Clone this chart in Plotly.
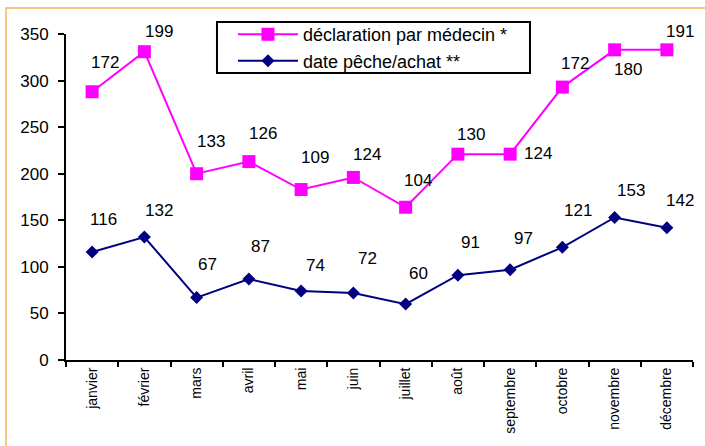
import plotly.graph_objects as go

months = ["janvier", "février", "mars", "avril", "mai", "juin", "juillet",
          "août", "septembre", "octobre", "novembre", "décembre"]

# cases by date of fishing / purchase
peche_achat = [116, 132, 67, 87, 74, 72, 60, 91, 97, 121, 153, 142]
# cases declared by physicians (stacked on top of the first series)
declaration_medecin = [172, 199, 133, 126, 109, 124, 104, 130, 124, 172, 180, 191]

series_names = ["déclaration par médecin *", "date pêche/achat **"]

# stacked totals for the upper line
stacked_top = [a + b for a, b in zip(peche_achat, declaration_medecin)]

# label offsets in pixels (dx, dy) relative to each marker
top_label_offsets = [(13, 29), (15, 20), (14, 32), (14, 28), (14, 32), (14, 23),
                     (12, 27), (13, 20), (28, 1), (13, 24), (13, -20), (13, 18)]
bottom_label_offsets = [(11, 32), (15, 27), (11, 33), (12, 32), (14, 26), (14, 34),
                        (13, 31), (13, 33), (13, 31), (16, 37), (16, 27), (13, 27)]

PINK = "#FF00FF"
NAVY = "#000080"
FONT = "Liberation Sans, Arial, sans-serif"

fig = go.Figure()
fig.add_trace(go.Scatter(
    x=months, y=stacked_top, name=series_names[0], mode="lines+markers",
    line=dict(color=PINK, width=2),
    marker=dict(symbol="square", size=13, color=PINK),
))
fig.add_trace(go.Scatter(
    x=months, y=peche_achat, name=series_names[1], mode="lines+markers",
    line=dict(color=NAVY, width=2),
    marker=dict(symbol="diamond", size=10, color=NAVY),
))

annotations = []
for m, y, lab, (dx, dy) in zip(months, stacked_top, declaration_medecin, top_label_offsets):
    annotations.append(dict(x=m, y=y, text=str(lab), showarrow=False,
                            xshift=dx, yshift=dy, font=dict(size=17, color="black", family=FONT)))
for m, y, (dx, dy) in zip(months, peche_achat, bottom_label_offsets):
    annotations.append(dict(x=m, y=y, text=str(y), showarrow=False,
                            xshift=dx, yshift=dy, font=dict(size=17, color="black", family=FONT)))

fig.update_layout(
    width=705, height=446, autosize=False,
    margin=dict(l=66, r=12, t=34, b=86, pad=0),
    paper_bgcolor="white", plot_bgcolor="white",
    font=dict(family=FONT, color="black"),
    annotations=annotations,
    legend=dict(
        x=0.2663, y=1.055, xanchor="left", yanchor="top",
        bgcolor="rgba(0,0,0,0)", borderwidth=0,
        font=dict(size=18, color="black", family=FONT),
        itemwidth=60, tracegroupgap=0,
    ),
    shapes=[
        # outer chart-area frame
        dict(type="rect", xref="paper", yref="paper",
             x0=-0.0957, x1=1.2, y0=-0.4, y1=1.0798,
             line=dict(color="#F5B45A", width=1.5), layer="below"),
        # legend box
        dict(type="rect", xref="paper", yref="paper",
             x0=0.2408, x1=0.740, y0=0.8804, y1=1.0368,
             line=dict(color="black", width=2), fillcolor="white", layer="above"),
    ],
)
fig.update_xaxes(
    type="category", categoryorder="array", categoryarray=months,
    range=[-0.5, 11.5], showgrid=False, zeroline=False,
    showline=True, linecolor="black", linewidth=2,
    ticks="outside", ticklen=5, tickwidth=2, tickcolor="black",
    tickson="boundaries", tickangle=-90,
    tickfont=dict(size=14, color="black", family=FONT),
)
fig.update_yaxes(
    range=[0, 350], dtick=50, showgrid=False, zeroline=False,
    showline=True, linecolor="black", linewidth=2,
    ticks="outside", ticklen=6, tickwidth=2, tickcolor="black",
    tickfont=dict(size=17, color="black", family=FONT),
    ticklabelstandoff=6,
)

fig.write_html("out.html")
